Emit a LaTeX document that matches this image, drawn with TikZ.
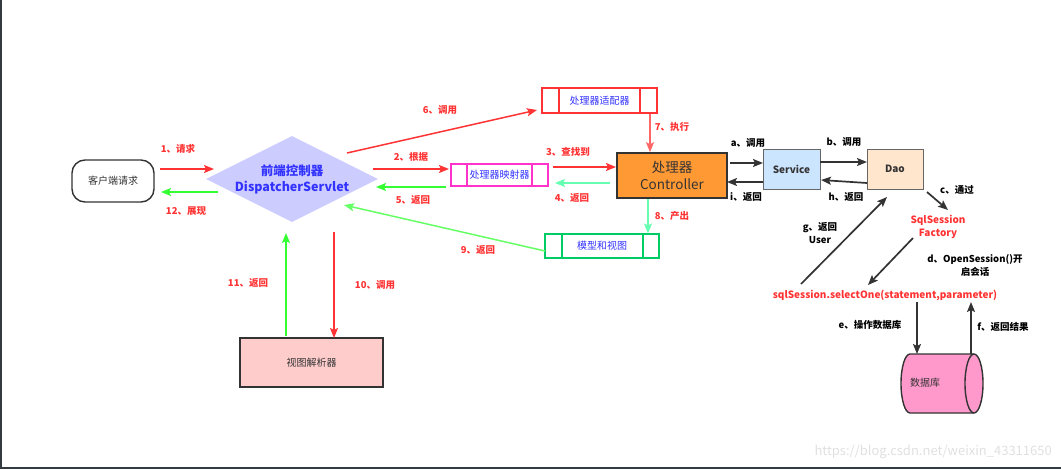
\documentclass[tikz,border=0pt]{standalone}
\usepackage{fontspec}
\setmainfont{Noto Sans CJK SC}
\usetikzlibrary{arrows.meta,shapes.geometric}
\definecolor{cred}{HTML}{FF3333}
\definecolor{cred2}{HTML}{FF6666}
\definecolor{cgreen}{HTML}{33FF33}
\definecolor{cmint}{HTML}{66FFB2}
\definecolor{cgreen9}{HTML}{66FF66}
\definecolor{cdark}{HTML}{333333}
\definecolor{cblue}{HTML}{3333FF}
\definecolor{lav}{HTML}{CCCCFF}
\definecolor{corange}{HTML}{FF9933}
\definecolor{cservice}{HTML}{CCE5FF}
\definecolor{cdao}{HTML}{FFE6CC}
\definecolor{cpink}{HTML}{FFCCCC}
\definecolor{cdb}{HTML}{FF99CC}
\definecolor{cmagenta}{HTML}{FF33CC}
\definecolor{cgbox}{HTML}{00CC66}
\definecolor{frame}{HTML}{333A40}
\tikzset{
  arr/.style={line width=1.5pt,-{Stealth[length=10pt,width=8pt,inset=2pt]}},
  darr/.style={line width=1.7pt,draw=cdark,-{Stealth[length=10pt,width=8pt,inset=2pt]}},
  lab/.style={font=\bfseries\fontsize{9.5}{11}\selectfont,text=cred,inner sep=0pt},
  dlab/.style={font=\bfseries\fontsize{9.5}{11}\selectfont,text=black,inner sep=0pt,align=center},
  plainbox/.style={draw=cdark,line width=1.6pt,inner sep=0pt},
  txt/.style={font=\fontsize{10}{12}\selectfont,text=cdark}
}
\begin{document}
\begin{tikzpicture}[x=1pt,y=-1pt]
\useasboundingbox (0,0) rectangle (1061,469);
\draw[frame,line width=2pt] (1,0) -- (1,468) -- (1061,468);
% watermark
\node[font=\fontsize{13}{15}\selectfont,text=black!12,anchor=east,inner sep=0pt] (wm) at (1052,452) {https://blog.csdn.net/weixin\_43311650};

% client
\node[draw=cdark,line width=1.4pt,rounded corners=13pt,minimum width=82pt,minimum height=42pt,txt] (client) at (113,181) {客户端请求};
% diamond
\node[diamond,fill=lav,minimum width=172pt,minimum height=86pt,aspect=2,inner sep=0pt] (disp) at (292,179) {};
\node[font=\bfseries\fontsize{12.5}{16}\selectfont,text=cblue,align=center] (disptxt) at (292,179) {前端控制器\\DispatcherServlet};

% adapter box
\node[draw=cred,fill=white,line width=1.1pt,minimum width=115pt,minimum height=25pt,inner sep=0pt,font=\fontsize{10}{12}\selectfont,text=cblue] (adapter) at (599.5,100.5) {处理器适配器};
\draw[cred,line width=1.1pt] (559,88) -- (559,113) (640,88) -- (640,113);
% mapper box
\node[draw=cmagenta,fill=white,line width=1.1pt,minimum width=97pt,minimum height=22pt,inner sep=0pt,font=\fontsize{10}{12}\selectfont,text=cblue] (mapper) at (499.5,175) {处理器映射器};
\draw[cmagenta,line width=1.1pt] (467,164) -- (467,186) (532,164) -- (532,186);
% model box
\node[draw=cgbox,fill=white,line width=1.1pt,minimum width=114pt,minimum height=24pt,inner sep=0pt,font=\fontsize{10}{12}\selectfont,text=cblue] (model) at (602,246) {模型和视图};
\draw[cgbox,line width=1.1pt] (562,234) -- (562,258) (643,234) -- (643,258);

% controller
\node[plainbox,fill=corange,minimum width=110pt,minimum height=45pt,align=center,font=\fontsize{13.5}{17}\selectfont,text=cdark] (ctrl) at (672,175.5) {处理器\\Controller};
% service, dao
\node[draw=black!60,line width=1pt,fill=cservice,minimum width=57pt,minimum height=40pt,inner sep=0pt,font=\bfseries\fontsize{10}{12}\selectfont,text=cdark] (service) at (791.5,169) {Service};
\node[draw=black!60,line width=1pt,fill=cdao,minimum width=56pt,minimum height=40pt,inner sep=0pt,font=\bfseries\fontsize{10}{12}\selectfont,text=cdark] (dao) at (895,169) {Dao};

% view resolver
\node[plainbox,fill=cpink,minimum width=143pt,minimum height=49pt,txt] (resolver) at (311.5,362.5) {视图解析器};

% sqlsession factory and selectOne
\node[font=\bfseries\fontsize{10}{12.5}\selectfont,text=cred,align=center,inner sep=0pt] (factory) at (938,227) {SqlSession\\Factory};
\node[font=\bfseries\fontsize{10}{12}\selectfont,text=cred,inner sep=0pt] (sel) at (885,295) {sqlSession.selectOne(statement,parameter)};

% database cylinder (horizontal)
\filldraw[draw=cdark,fill=cdb,line width=1.4pt] (910,354) -- (974,354)
  arc[start angle=-90,end angle=90,x radius=9,y radius=29.5] -- (910,413)
  arc[start angle=90,end angle=270,x radius=9,y radius=29.5] -- cycle;
\draw[cdark,line width=1.4pt] (974,354) arc[start angle=270,end angle=90,x radius=9,y radius=29.5];
\node[txt] (dbtxt) at (925,383) {数据库};

% coordinates
\coordinate (c1s) at (160,169); \coordinate (c1e) at (214,169);
\coordinate (c12s) at (218,192); \coordinate (c12e) at (161,192);
\coordinate (c6s) at (347,153); \coordinate (c6e) at (537,110);
\coordinate (c2s) at (373,169); \coordinate (c2e) at (449,169);
\coordinate (c5s) at (446,187); \coordinate (c5e) at (376,187);
\coordinate (c3s) at (553,167); \coordinate (c3e) at (616,167);
\coordinate (c4s) at (610,183); \coordinate (c4e) at (555,183);
\coordinate (c9s) at (545,251); \coordinate (c9e) at (344,205);
\coordinate (c11s) at (286,336); \coordinate (c11e) at (286,233);
\coordinate (c10s) at (334,232); \coordinate (c10e) at (334,338);
\coordinate (cas) at (730,163); \coordinate (cae) at (763,163);
\coordinate (cis) at (763,182); \coordinate (cie) at (727,182);
\coordinate (cbs) at (820,162); \coordinate (cbe) at (867,162);
\coordinate (chs) at (867,183); \coordinate (che) at (821,180);
\coordinate (ccs) at (927,192); \coordinate (cce) at (948,210);
\coordinate (cds) at (913,238); \coordinate (cde) at (868,285);
\coordinate (cgs) at (801,284); \coordinate (cge) at (887,197);
\coordinate (ces) at (917,302); \coordinate (cee) at (917,354);
\coordinate (cfs) at (971,354); \coordinate (cfe) at (971,302);

% arrows
\draw[arr,cred] (c1s) -- (c1e);
\draw[arr,cgreen] (c12s) -- (c12e);
\draw[arr,cred] (c6s) -- (c6e);
\draw[arr,cred] (c2s) -- (c2e);
\draw[arr,cgreen] (c5s) -- (c5e);
\draw[arr,cred] (c3s) -- (c3e);
\draw[arr,cmint] (c4s) -- (c4e);
\draw[arr,cred2] (adapter.south -| 650,0) -- (ctrl.north -| 650,0);
\draw[arr,cmint] (ctrl.south -| 648,0) -- (model.north -| 648,0);
\draw[arr,cgreen9] (c9s) -- (c9e);
\draw[arr,cgreen] (c11s) -- (c11e);
\draw[arr,cred] (c10s) -- (c10e);
\draw[darr] (cas) -- (cae);
\draw[darr] (cis) -- (cie);
\draw[darr] (cbs) -- (cbe);
\draw[darr] (chs) -- (che);
\draw[darr] (ccs) -- (cce);
\draw[darr] (cds) -- (cde);
\draw[darr] (cgs) -- (cge);
\draw[darr] (ces) -- (cee);
\draw[darr] (cfs) -- (cfe);

% labels
\node[lab] (l1) at (178,149) {1、请求};
\node[lab] (l12) at (186,211) {12、展现};
\node[lab] (l6) at (440,110) {6、调用};
\node[lab] (l2) at (411,157) {2、根据};
\node[lab] (l5) at (413,200) {5、返回};
\node[lab] (l3) at (568,152) {3、查找到};
\node[lab] (l4) at (572,198) {4、返回};
\node[lab] (l7) at (672,127) {7、执行};
\node[lab] (l8) at (672,216) {8、产出};
\node[lab] (l9) at (478,250) {9、返回};
\node[lab] (l11) at (248,283) {11、返回};
\node[lab] (l10) at (375,285) {10、调用};
\node[dlab] (la) at (748,143) {a、调用};
\node[dlab] (li) at (746,197) {i、返回};
\node[dlab] (lb) at (844,142) {b、调用};
\node[dlab] (lh) at (846,197) {h、返回};
\node[dlab] (lc) at (957,190) {c、通过};
\node[dlab,font=\bfseries\fontsize{9.5}{13}\selectfont] (ld) at (975,265) {d、OpenSession()开\\启会话};
\node[dlab,font=\bfseries\fontsize{9.5}{13}\selectfont] (lg) at (820,233) {g、返回\\User};
\node[dlab] (le) at (870,325) {e、操作数据库};
\node[dlab] (lf) at (1003,327) {f、返回结果};
\end{tikzpicture}
\end{document}
